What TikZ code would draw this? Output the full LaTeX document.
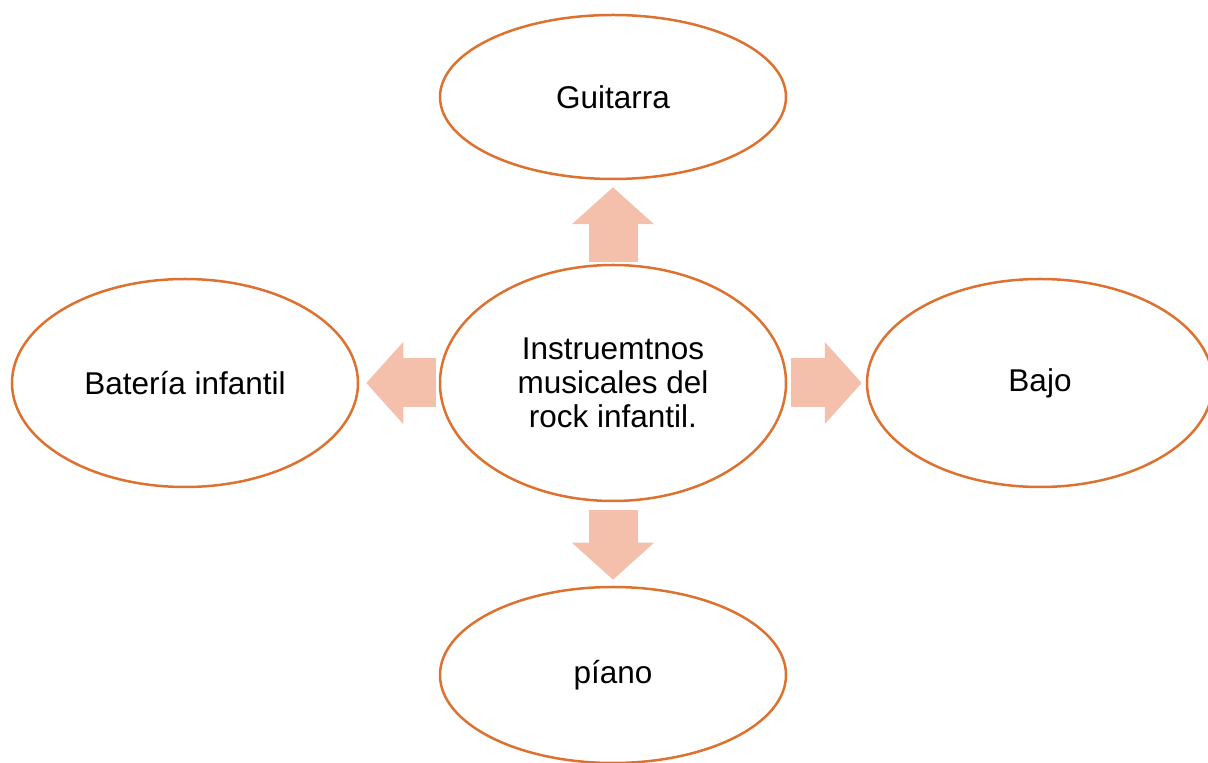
\documentclass[tikz,border=0pt]{standalone}
\usepackage{fontspec}
\setmainfont{Liberation Sans}
\usetikzlibrary{shapes.geometric,arrows.meta}
\definecolor{borde}{RGB}{221,114,48}
\definecolor{relleno}{RGB}{244,192,172}
\begin{document}
\begin{tikzpicture}[x=1pt, y=1pt,
    idea/.style = {shape=ellipse, draw=borde, line width=2.5pt, align=center,
                   minimum width=346pt, font=\fontsize{31.5}{34}\selectfont},
    flecha/.style = {draw=relleno, line width=49pt,
                     -{Triangle[width=80pt, length=37pt]}}]
    \useasboundingbox (0,0) rectangle (1208,763);
    \node[idea, minimum height=236pt] (centro) at (613,380) {Instruemtnos\\musicales del\\rock infantil.};
    \node[idea, minimum height=164pt] (guitarra) at (613,666) {Guitarra};
    \node[idea, minimum height=208pt] (bateria) at (185,380) {Batería infantil};
    \node[idea, minimum height=208pt] (bajo) at (1040,380) {Bajo};
    \node[idea, minimum height=176pt] (piano) at (613,88) {píano};
    \draw[flecha, shorten <=2pt, shorten >=7pt] (centro) -- (guitarra);
    \draw[flecha, shorten <=8pt, shorten >=6pt] (centro) -- (piano);
    \draw[flecha, shorten <=3pt, shorten >=7pt] (centro) -- (bateria);
    \draw[flecha, shorten <=4pt, shorten >=4pt] (centro) -- (bajo);
\end{tikzpicture}
\end{document}
